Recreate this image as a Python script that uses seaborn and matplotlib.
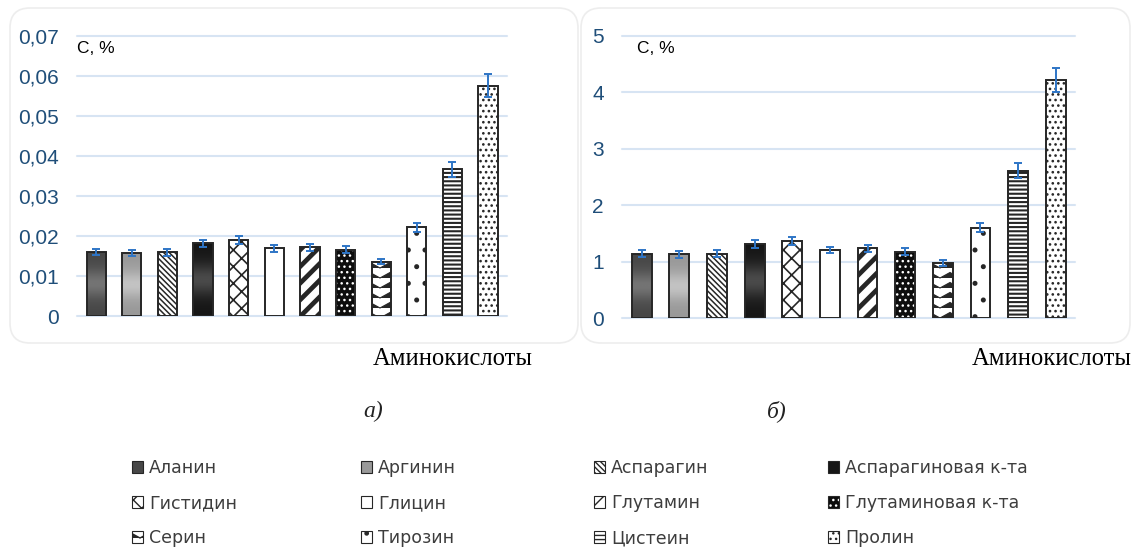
import warnings
import numpy as np
import pandas as pd
import matplotlib
matplotlib.use("Agg")
import matplotlib.pyplot as plt
import matplotlib.hatch as mhatch
from matplotlib.path import Path
from matplotlib.patches import Patch, FancyBboxPatch
from matplotlib.colors import LinearSegmentedColormap, to_rgba
from matplotlib.ticker import FuncFormatter, MultipleLocator
from matplotlib.transforms import IdentityTransform
import seaborn as sns

warnings.filterwarnings("ignore")

# ---------------------------------------------------------------- data
amino_acids = ["Аланин", "Аргинин", "Аспарагин", "Аспарагиновая к-та",
               "Гистидин", "Глицин", "Глутамин", "Глутаминовая к-та",
               "Серин", "Тирозин", "Цистеин", "Пролин"]

conc_a = [0.0160, 0.0157, 0.0159, 0.0182, 0.0190, 0.0169,
          0.0172, 0.0166, 0.0136, 0.0222, 0.0366, 0.0575]
err_a = [0.0008, 0.0008, 0.0008, 0.0009, 0.0009, 0.0008,
         0.0009, 0.0008, 0.0007, 0.0011, 0.0018, 0.0029]

conc_b = [1.14, 1.13, 1.14, 1.31, 1.36, 1.21,
          1.24, 1.18, 0.98, 1.60, 2.61, 4.22]
err_b = [0.06, 0.06, 0.06, 0.07, 0.07, 0.06,
         0.06, 0.06, 0.05, 0.08, 0.13, 0.21]

axis_label = "Аминокислоты"
unit_label = "C, %"
panel_labels = ["а)", "б)"]


# ---------------------------------------------------------------- custom chevron hatch ('v')
class ChevronHatch(mhatch.HatchPatternBase):
    def __init__(self, hatch, density):
        self.num_rows = int(hatch.count("v") * density * 0.85)
        self.per_row = 5
        self.num_vertices = self.num_rows * (2 * self.per_row + 1)

    def set_vertices_and_codes(self, vertices, codes):
        step = 1.0 / self.num_rows
        xs = np.linspace(0.0, 1.0, 2 * self.per_row + 1)
        n = len(xs)
        for i in range(self.num_rows):
            y0 = i * step + step * 0.2
            ys = np.where(np.arange(n) % 2 == 0, y0, y0 + step * 0.55)
            vertices[i * n:(i + 1) * n, 0] = xs
            vertices[i * n:(i + 1) * n, 1] = ys
            codes[i * n] = Path.MOVETO
            codes[i * n + 1:(i + 1) * n] = Path.LINETO


mhatch._hatch_types.append(ChevronHatch)

# ---------------------------------------------------------------- bar styles
EDGE = "#262626"
styles = [
    dict(grad=("#474747", "#747474")),
    dict(grad=("#999999", "#c3c3c3")),
    dict(hatch="\\" * 6, hlw=1.1),
    dict(grad=("#161616", "#4a4a4a")),
    dict(hatch="xx", hlw=1.2),
    dict(),
    dict(hatch="//", hlw=3.4),
    dict(face="#0d0d0d", hatch="...", hcol="white", hlw=1.0),
    dict(hatch="vv", hlw=0.8),
    dict(hatch=".", hlw=1.2),
    dict(hatch="----", hlw=1.5),
    dict(hatch="...", hlw=1.1),
]

sns.set_theme(style="white")
tick_font = ["Liberation Sans", "DejaVu Sans"]
plt.rcParams["font.family"] = ["DejaVu Sans"]

W, H = 1135, 550
fig = plt.figure(figsize=(W / 100, H / 100), dpi=100)
fig.patch.set_facecolor("white")


def px(x, y):
    return x / W, 1 - y / H


def style_patch(ax, p, st):
    p.set_edgecolor(EDGE)
    p.set_linewidth(1.4)
    p.set_facecolor(st.get("face", "white"))
    if "hatch" in st:
        p.set_hatch(st["hatch"])
        if hasattr(p, "set_hatch_linewidth"):
            p.set_hatch_linewidth(st.get("hlw", 1.0))
        else:
            p._hatch_linewidth = st.get("hlw", 1.0)
        if "hcol" in st:
            p._hatch_color = to_rgba(st["hcol"])
    if "grad" in st:
        x0, y0 = p.get_x(), p.get_y()
        w, h = p.get_width(), p.get_height()
        t = np.linspace(0, 1, 256)[:, None]
        prof = np.exp(-((t - 0.5) / 0.22) ** 2)
        cmap = LinearSegmentedColormap.from_list("g", list(st["grad"]))
        im = ax.imshow(prof, cmap=cmap, vmin=0, vmax=1, origin="lower",
                       extent=(x0, x0 + w, y0, y0 + h), aspect="auto",
                       interpolation="bilinear", zorder=p.get_zorder() - 0.01)
        im.set_clip_path(p)
        p.set_facecolor("none")


def draw_panel(rect, values, errors, ymax, ystep, fmt, xlim, width, unit_x):
    ax = fig.add_axes(rect)
    df = pd.DataFrame({"acid": amino_acids, "c": values})
    sns.barplot(data=df, x="acid", y="c", order=amino_acids, color="white",
                saturation=1, width=width, errorbar=None, ax=ax)
    for p, st in zip(ax.patches, styles):
        style_patch(ax, p, st)
    ax.errorbar(np.arange(len(values)), values, yerr=errors, fmt="none",
                ecolor="#2e75c6", elinewidth=1.4, capsize=3, capthick=1.4,
                zorder=5)
    ax.set_xlim(*xlim)
    ax.set_ylim(0, ymax)
    ax.yaxis.set_major_locator(MultipleLocator(ystep))
    ax.yaxis.set_major_formatter(FuncFormatter(fmt))
    ax.set_xlabel("")
    ax.set_ylabel("")
    ax.set_xticks([])
    for s in ax.spines.values():
        s.set_visible(False)
    ax.set_facecolor("none")
    ax.set_axisbelow(True)
    ax.yaxis.grid(True, color="#d7e4f3", linewidth=1.5)
    for gl in ax.get_ygridlines():
        gl.set_clip_on(False)
    ax.tick_params(axis="y", length=0, pad=13, labelcolor="#1f4e79")
    for lab in ax.get_yticklabels():
        lab.set_fontfamily(tick_font)
        lab.set_fontsize(15)
    ax.text(unit_x, 0.956, unit_label, transform=ax.transAxes,
            ha="left", va="center", fontsize=12.5, color="black",
            family=tick_font)
    return ax


def fmt_a(v, _):
    return "0" if abs(v) < 1e-12 else f"{v:.2f}".replace(".", ",")


def fmt_b(v, _):
    return f"{v:.0f}"


# panel frames
for (x0, y0, x1, y1) in [(10, 8, 578, 343), (581, 8, 1130, 343)]:
    fig.add_artist(FancyBboxPatch((x0, H - y1), x1 - x0, y1 - y0,
                                  boxstyle="round,pad=0,rounding_size=20",
                                  transform=IdentityTransform(),
                                  facecolor="none", edgecolor="#ededed",
                                  linewidth=1.2, zorder=0))

draw_panel([77 / W, 1 - 316 / H, 430 / W, 280.3 / H], conc_a, err_a,
           0.07, 0.01, fmt_a, (-0.54, 11.53), 0.54, 0.0)
draw_panel([622 / W, 1 - 318.3 / H, 453 / W, 282.6 / H], conc_b, err_b,
           5, 1, fmt_b, (-0.52, 11.51), 0.53, 0.033)

# axis captions and panel letters
for cx in (453, 1052):
    fig.text(*px(cx, 359), axis_label, ha="center", va="center",
             fontsize=17.7, family="Liberation Serif", color="black")
for cx, lab in zip((373, 777), panel_labels):
    fig.text(*px(cx, 411), lab, ha="center", va="center", fontsize=17,
             family="Liberation Serif", style="italic", color="#222222")

# legend: four columns, three rows
def handle(st):
    if "grad" in st:
        face = st["grad"][0]
    else:
        face = st.get("face", "white")
    h = Patch(facecolor=face, edgecolor=EDGE, linewidth=0.8,
              hatch=st.get("hatch"))
    if "hcol" in st:
        h._hatch_color = to_rgba(st["hcol"])
    return h


col_x = [132, 361, 594, 828]
for j, x in enumerate(col_x):
    idx = [j, j + 4, j + 8]
    leg = fig.legend([handle(styles[i]) for i in idx],
                     [amino_acids[i] for i in idx],
                     loc="upper left", bbox_to_anchor=px(x, 459),
                     frameon=False, fontsize=12.5, handlelength=0.62,
                     handleheight=0.62, handletextpad=0.35,
                     labelspacing=0.98, borderpad=0, borderaxespad=0)
    for t in leg.get_texts():
        t.set_color("#3d3d3d")

fig.savefig("out.png", dpi=100, facecolor="white")
